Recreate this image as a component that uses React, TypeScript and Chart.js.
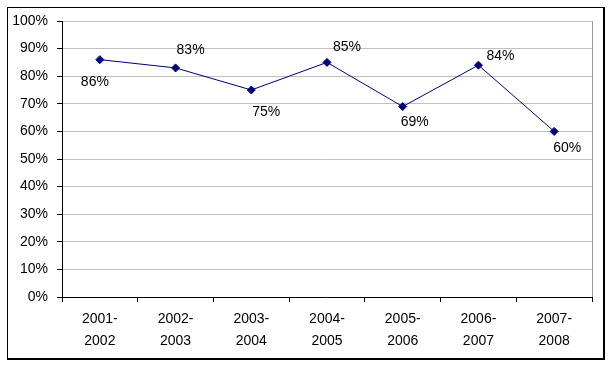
import React, { useEffect, useRef } from "react";
import { Chart, registerables } from "chart.js";

Chart.register(...registerables);

const categories: string[][] = [
  ["2001-", "2002"],
  ["2002-", "2003"],
  ["2003-", "2004"],
  ["2004-", "2005"],
  ["2005-", "2006"],
  ["2006-", "2007"],
  ["2007-", "2008"],
];
const values: number[] = [86, 83, 75, 85, 69, 84, 60];
const yTicks: number[] = [0, 10, 20, 30, 40, 50, 60, 70, 80, 90, 100];
// label placement relative to each point (Excel-like label positions)
const labelDx: number[] = [-5, 15, 15, 20, 12, 22, 13];
const labelDy: number[] = [23, -18, 22, -15, 16, -9, 17];

const FONT = "'Liberation Sans', Arial, sans-serif";

const framePlugin = {
  id: "frame",
  beforeDraw(chart: any) {
    const ctx = chart.ctx;
    ctx.save();
    ctx.fillStyle = "#ffffff";
    ctx.fillRect(0, 0, chart.width, chart.height);
    ctx.fillStyle = "#000000";
    // left & top 1px, right & bottom 2px
    ctx.fillRect(7, 7, 598, 1);
    ctx.fillRect(7, 7, 1, 353);
    ctx.fillRect(603, 7, 2, 353);
    ctx.fillRect(7, 358, 598, 2);
    ctx.restore();
  },
  afterDraw(chart: any) {
    const { ctx, chartArea } = chart;
    ctx.save();
    ctx.strokeStyle = "#9a9a9a";
    ctx.lineWidth = 1;
    ctx.beginPath();
    ctx.moveTo(Math.round(chartArea.right) + 0.5, chartArea.top);
    ctx.lineTo(Math.round(chartArea.right) + 0.5, chartArea.bottom);
    ctx.stroke();
    ctx.restore();
  },
};

const labelPlugin = {
  id: "pointLabels",
  afterDatasetsDraw(chart: any) {
    const ctx = chart.ctx;
    const meta = chart.getDatasetMeta(0);
    ctx.save();
    ctx.font = `14px ${FONT}`;
    ctx.fillStyle = "#000000";
    ctx.textAlign = "center";
    ctx.textBaseline = "middle";
    meta.data.forEach((el: any, i: number) => {
      ctx.fillText(`${values[i]}%`, el.x + labelDx[i], el.y + labelDy[i]);
    });
    ctx.restore();
  },
};

export default function App() {
  const ref = useRef<HTMLCanvasElement>(null);
  useEffect(() => {
    if (!ref.current) return;
    const chart = new Chart(ref.current, {
      type: "line",
      data: {
        labels: categories,
        datasets: [
          {
            data: values,
            borderColor: "#000080",
            backgroundColor: "#000080",
            borderWidth: 1,
            pointStyle: "rectRot",
            pointRadius: 4,
            pointBorderWidth: 1,
            pointBackgroundColor: "#000080",
            pointBorderColor: "#000080",
            tension: 0,
          },
        ],
      },
      options: {
        responsive: false,
        animation: false,
        events: [],
        layout: { padding: { left: 0, top: 21, right: 19, bottom: 0 } },
        plugins: { legend: { display: false }, tooltip: { enabled: false } },
        scales: {
          x: {
            type: "category",
            offset: true,
            grid: {
              display: true,
              offset: true,
              drawOnChartArea: false,
              drawTicks: true,
              tickLength: 5,
              tickColor: "#000000",
              color: "#000000",
            },
            border: { display: true, color: "#000000", width: 1 },
            ticks: {
              color: "#000000",
              padding: 6,
              maxRotation: 0,
              autoSkip: false,
              font: { family: FONT, size: 14, lineHeight: 22 / 14 },
            },
            afterFit(scale: any) {
              scale.height = 69;
            },
          },
          y: {
            min: 0,
            max: 100,
            afterBuildTicks(scale: any) {
              scale.ticks = yTicks.map((v) => ({ value: v }));
            },
            grid: {
              color: "#c0c0c0",
              tickColor: "#000000",
              tickLength: 5,
              drawTicks: true,
            },
            border: { display: true, color: "#000000", width: 1 },
            ticks: {
              color: "#000000",
              padding: 9,
              font: { family: FONT, size: 14 },
              callback: (v: any) => `${v}%`,
            },
            afterFit(scale: any) {
              scale.width = 62;
            },
          },
        },
      },
      plugins: [framePlugin, labelPlugin],
    });
    return () => chart.destroy();
  }, []);
  return (
    <div style={{ position: "absolute", left: 0, top: 0, width: 611, height: 366 }}>
      <canvas ref={ref} width={611} height={366} style={{ display: "block" }} />
    </div>
  );
}
